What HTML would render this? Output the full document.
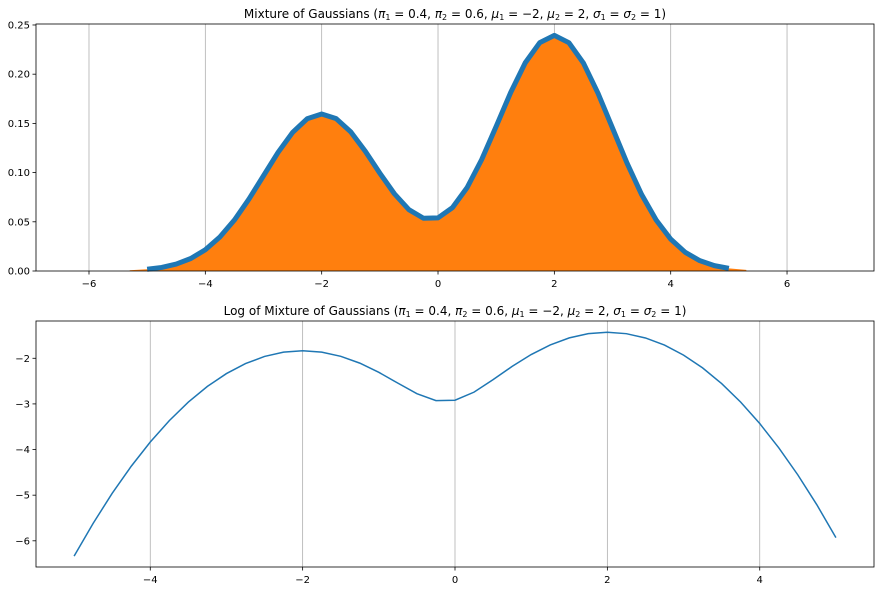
<!DOCTYPE html>
<html><head><meta charset="utf-8"><style>
body{margin:0;background:#fff;}
svg{font-family:"DejaVu Sans","Liberation Sans",sans-serif;}
</style></head><body>
<svg id="fig" width="884" height="592" viewBox="0 0 884 592" xmlns="http://www.w3.org/2000/svg">
<rect width="884" height="592" fill="#fff"/>
<g id="top"></g>
<g id="bot"></g>
</svg>
<script>
const xs = [-5,-4.75,-4.5,-4.25,-4,-3.75,-3.5,-3.25,-3,-2.75,-2.5,-2.25,-2,-1.75,-1.5,-1.25,-1,-0.75,-0.5,-0.25,0,0.25,0.5,0.75,1,1.25,1.5,1.75,2,2.25,2.5,2.75,3,3.25,3.5,3.75,4,4.25,4.5,4.75,5];
const density = [0.00177,0.00364,0.00701,0.0127,0.0216,0.0345,0.0518,0.0731,0.0968,0.1205,0.1408,0.1547,0.1596,0.1548,0.1414,0.1217,0.0994,0.0785,0.0623,0.0536,0.0540,0.0645,0.0847,0.1132,0.1470,0.1815,0.2116,0.2321,0.2394,0.2320,0.2113,0.1807,0.1452,0.1096,0.0777,0.0518,0.0324,0.0190,0.0105,0.00545,0.00266];
const logDensity = [-6.335,-5.617,-4.960,-4.366,-3.835,-3.366,-2.960,-2.616,-2.335,-2.116,-1.960,-1.866,-1.835,-1.866,-1.957,-2.106,-2.308,-2.545,-2.775,-2.927,-2.919,-2.742,-2.468,-2.178,-1.918,-1.707,-1.553,-1.460,-1.430,-1.461,-1.555,-1.711,-1.930,-2.211,-2.555,-2.961,-3.430,-3.961,-4.555,-5.211,-5.930];
const topXTicks = [-6,-4,-2,0,2,4,6];
const topYTicks = [0,0.05,0.10,0.15,0.20,0.25];
const botXTicks = [-4,-2,0,2,4];
const botYTicks = [-6,-5,-4,-3,-2];
const NS="http://www.w3.org/2000/svg";
function mk(p,tag,attrs,txt){const e=document.createElementNS(NS,tag);for(const k in attrs)e.setAttribute(k,attrs[k]);if(txt!==undefined)e.textContent=txt;p.appendChild(e);return e;}

function axes(g,L,T,R,B,xmin,xmax,ymin,ymax,xt,yt,ydec,title){
  const sx=v=>L+(v-xmin)/(xmax-xmin)*(R-L);
  const sy=v=>B-(v-ymin)/(ymax-ymin)*(B-T);
  xt.forEach(v=>{
    const l=mk(g,'line',{x1:sx(v),x2:sx(v),y1:T,y2:B,stroke:'#b0b0b0','stroke-width':0.8});
    
    
    mk(g,'line',{x1:sx(v),x2:sx(v),y1:B,y2:B+3.5,stroke:'#000','stroke-width':0.8});
    const t=mk(g,'text',{x:sx(v),y:B+16,'font-size':10,'text-anchor':'middle'},(v<0?'\u2212':'')+Math.abs(v));
    
    
  });
  yt.forEach(v=>{
    mk(g,'line',{x1:L-3.5,x2:L,y1:sy(v),y2:sy(v),stroke:'#000','stroke-width':0.8});
    const s=(v<0?'\u2212':'')+Math.abs(v).toFixed(ydec);
    const t=mk(g,'text',{x:L-6,y:sy(v)+3.5,'font-size':10,'text-anchor':'end'},s);
    
    
  });
  const tt=mk(g,'text',{x:(L+R)/2,y:T-6,'font-size':12,'text-anchor':'middle'});
  tt.innerHTML=title;
  
  
  return {sx,sy};
}
function frame(g,L,T,R,B){
  const f=mk(g,'rect',{x:L,y:T,width:R-L,height:B-T,fill:'none',stroke:'#000','stroke-width':0.8});
  
  
}
const params='(<tspan font-style="italic">π</tspan><tspan font-size="8" dy="2">1</tspan><tspan dy="-2"> = 0.4, </tspan><tspan font-style="italic">π</tspan><tspan font-size="8" dy="2">2</tspan><tspan dy="-2"> = 0.6, </tspan><tspan font-style="italic">μ</tspan><tspan font-size="8" dy="2">1</tspan><tspan dy="-2"> = −2, </tspan><tspan font-style="italic">μ</tspan><tspan font-size="8" dy="2">2</tspan><tspan dy="-2"> = 2, </tspan><tspan font-style="italic">σ</tspan><tspan font-size="8" dy="2">1</tspan><tspan dy="-2"> = </tspan><tspan font-style="italic">σ</tspan><tspan font-size="8" dy="2">2</tspan><tspan dy="-2"> = 1)</tspan>';

// top
const gt=document.getElementById('top');
const A=axes(gt,36,24,874,271,-6.911,7.495,0,0.2510,topXTicks,topYTicks,2,'Mixture of Gaussians '+params);
let d='M'+A.sx(-5.3)+','+A.sy(0)+' L'+A.sx(-5.3)+','+A.sy(0.0008);
xs.forEach((x,i)=>{d+=' L'+A.sx(x)+','+A.sy(density[i]);});
d+=' L'+A.sx(5.3)+','+A.sy(0.0012)+' L'+A.sx(5.3)+','+A.sy(0)+' Z';
const hist=mk(gt,'path',{d:d,fill:'#ff7f0e'});


const pts=xs.map((x,i)=>A.sx(x)+','+A.sy(density[i])).join(' ');
const pl=mk(gt,'polyline',{points:pts,fill:'none',stroke:'#1f77b4','stroke-width':5,'stroke-linejoin':'round'});


frame(gt,36,24,874,271);

// bottom
const gb=document.getElementById('bot');
const Bx=axes(gb,36,321,874,567,-5.5,5.5,-6.574,-1.183,botXTicks,botYTicks,0,'Log of Mixture of Gaussians '+params);
const pts2=xs.map((x,i)=>Bx.sx(x)+','+Bx.sy(logDensity[i])).join(' ');
const pl2=mk(gb,'polyline',{points:pts2,fill:'none',stroke:'#1f77b4','stroke-width':1.5});


frame(gb,36,321,874,567);
</script>
</body></html>
